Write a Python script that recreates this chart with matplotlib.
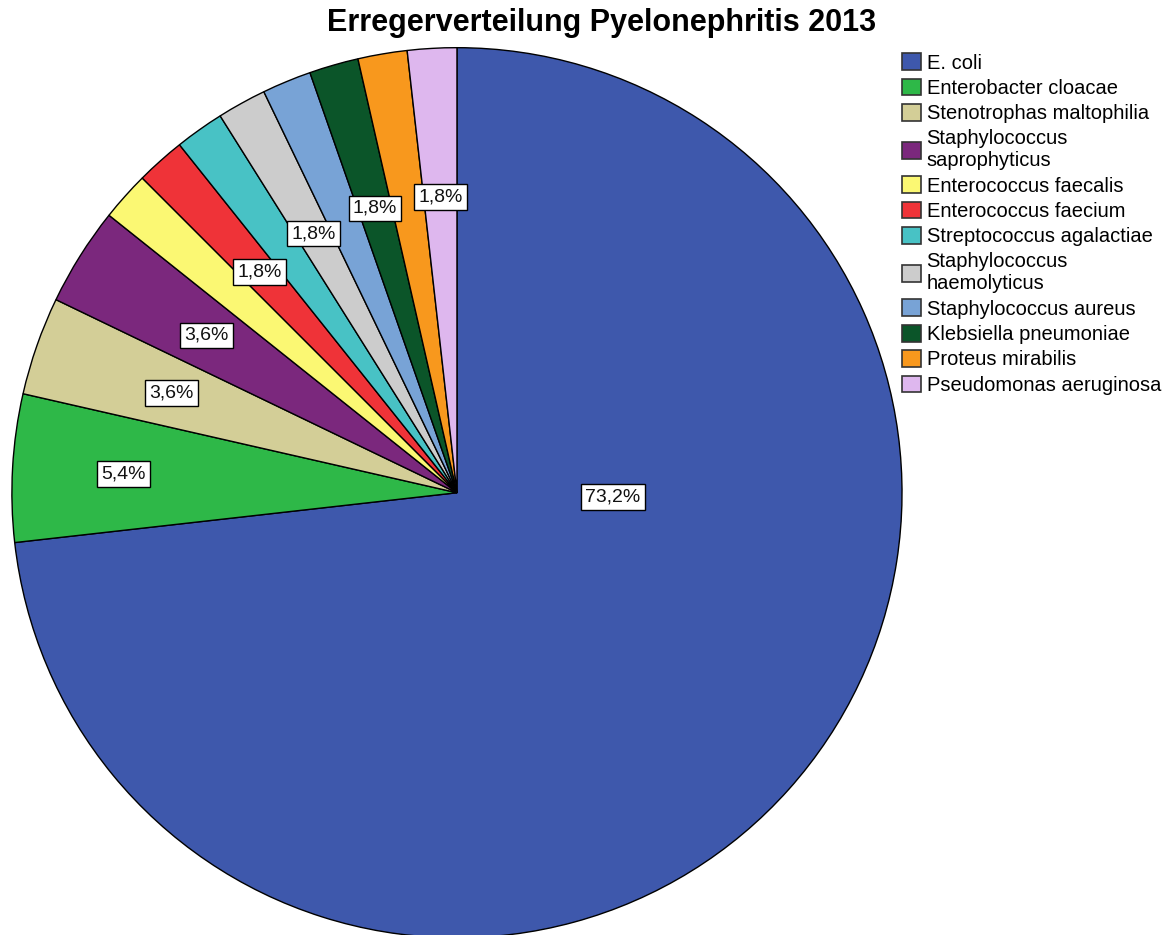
import numpy as np
import matplotlib
matplotlib.use("Agg")
import matplotlib.pyplot as plt
from matplotlib.patches import Patch

plt.rcParams['font.family'] = ['Liberation Sans', 'DejaVu Sans']

# Erreger und Anzahl der Fälle (n = 56)
erreger = [
    "E. coli",
    "Enterobacter cloacae",
    "Stenotrophas maltophilia",
    "Staphylococcus\nsaprophyticus",
    "Enterococcus faecalis",
    "Enterococcus faecium",
    "Streptococcus agalactiae",
    "Staphylococcus\nhaemolyticus",
    "Staphylococcus aureus",
    "Klebsiella pneumoniae",
    "Proteus mirabilis",
    "Pseudomonas aeruginosa",
]
anzahl = [41, 3, 2, 2, 1, 1, 1, 1, 1, 1, 1, 1]
farben = ["#3e58ac", "#2eb848", "#d3ce97", "#7b287d", "#fbf873", "#ef3338",
          "#48c2c5", "#cccccc", "#78a3d6", "#0b5529", "#f8981d", "#deb7ee"]

# welche Beschriftungen sichtbar sind, und wie weit vom Mittelpunkt
label_zeigen = [True, True, True, True, False, True, False, True, False, True, False, True]
label_radius = [0.35, 0.75, 0.68, 0.665, 0.665, 0.665, 0.665, 0.665, 0.665, 0.665, 0.665, 0.665]
# E. coli Label sitzt fast waagerecht rechts vom Mittelpunkt
label_winkel_override = {0: -1.5}

fig = plt.figure(figsize=(11.72, 9.35), dpi=100)
ax = fig.add_axes([0.0094, -0.003, 0.761, 0.952])

werte = np.array(anzahl, dtype=float)
prozent = werte / werte.sum() * 100

wedges, _ = ax.pie(werte, colors=farben, startangle=90, counterclock=False,
                   radius=1.0, wedgeprops=dict(edgecolor="black", linewidth=1.0))

for i, w in enumerate(wedges):
    if not label_zeigen[i]:
        continue
    winkel = (w.theta1 + w.theta2) / 2
    if i in label_winkel_override:
        winkel = label_winkel_override[i]
    r = label_radius[i]
    x = r * np.cos(np.deg2rad(winkel))
    y = r * np.sin(np.deg2rad(winkel))
    txt = f"{prozent[i]:.1f}%".replace(".", ",")
    ax.text(x, y, txt, ha="center", va="center", fontsize=14, color="#111111",
            bbox=dict(boxstyle="square,pad=0.22", facecolor="white",
                      edgecolor="black", linewidth=1.0))

ax.set_xlim(-1.0, 1.0)
ax.set_ylim(-1.0, 1.0)
ax.set_aspect("equal")
ax.axis("off")

fig.text(0.513, 0.975, "Erregerverteilung Pyelonephritis 2013", ha="center", va="center",
         fontsize=22, fontweight="bold")

handles = [Patch(facecolor=c, edgecolor="#333333", linewidth=1.2) for c in farben]
fig.legend(handles, erreger, loc="upper left", bbox_to_anchor=(0.770, 0.943),
           frameon=False, fontsize=14.5, handlelength=0.9, handleheight=0.9,
           handletextpad=0.3, labelspacing=0.3, borderpad=0, borderaxespad=0)

fig.savefig("out.png", dpi=100, facecolor="white")
